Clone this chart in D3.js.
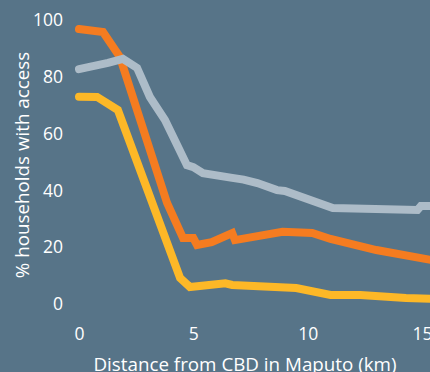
<!DOCTYPE html>
<html>
<head>
<meta charset="utf-8">
<script src="https://cdn.jsdelivr.net/npm/d3@7"></script>
<style>
  html, body { margin: 0; padding: 0; background: #577488; }
  svg { display: block; }
  text { font-family: "Open Sans", "Noto Sans", sans-serif; fill: #ffffff; }
</style>
</head>
<body>
<svg id="chart" width="430" height="372"></svg>
<script>
// Distance from CBD (km) and share of households with access (%)
const orangeX = [0, 1.05, 1.79, 3.85, 4.55, 5.0, 5.16, 5.8, 6.7, 6.82, 8.9, 10.2, 11.0, 13.0, 15.4];
const orangeY = [96.8, 95.8, 87, 35.6, 23.2, 23.2, 20.8, 21.8, 25, 22.5, 25.4, 25, 22.9, 19, 15.5];

const grayX = [0, 1.27, 1.92, 2.54, 3.1, 3.76, 4.72, 5.0, 5.42, 6.7, 7.2, 7.8, 8.66, 9.0, 11.1, 14.8, 14.95, 15.4];
const grayY = [82.7, 84.9, 86.3, 83.1, 72.9, 64.8, 48.9, 48.2, 46.1, 44.4, 43.8, 42.6, 40.1, 39.8, 33.8, 33.1, 34.5, 34.5];

const yellowX = [0, 0.79, 1.7, 4.42, 4.85, 6.4, 6.7, 9.5, 11.0, 12.3, 14.3, 15.4];
const yellowY = [73, 72.9, 68.3, 9.2, 6.0, 7.3, 6.7, 5.6, 3.2, 3.2, 2.1, 1.8];

const xTicks = [0, 5, 10, 15];
const yTicks = [0, 20, 40, 60, 80, 100];

const xTitle = "Distance from CBD in Maputo (km)";
const yTitle = "% households with access";

const svg = d3.select("#chart");

const x = d3.scaleLinear().domain([0, 15]).range([79, 422]);
const y = d3.scaleLinear().domain([0, 100]).range([304, 20]);

const line = d3.line().x(d => x(d[0])).y(d => y(d[1]));
const zip = (xs, ys) => xs.map((v, i) => [v, ys[i]]);

// Axes: labels only, no domain line or ticks
const yAxis = svg.append("g")
  .attr("transform", "translate(63,0)")
  .call(d3.axisLeft(y).tickValues(yTicks).tickSize(0).tickPadding(0).tickFormat(d3.format("d")));
yAxis.select(".domain").remove();
yAxis.selectAll("text").style("font-size", "17.5px").attr("fill", "#ffffff");

const xAxis = svg.append("g")
  .attr("transform", "translate(0,334)")
  .call(d3.axisBottom(x).tickValues(xTicks).tickSize(0).tickPadding(0).tickFormat(d3.format("d")));
xAxis.select(".domain").remove();
xAxis.selectAll("text").attr("dy", "0.35em").style("font-size", "17.5px").attr("fill", "#ffffff");

svg.append("text")
  .attr("x", 245).attr("y", 370.5)
  .attr("text-anchor", "middle")
  .style("font-size", "18.8px")
  .text(xTitle);

svg.append("text")
  .attr("transform", "translate(29,165) rotate(-90)")
  .attr("text-anchor", "middle")
  .style("font-size", "18.8px")
  .text(yTitle);

// Series lines
const series = [
  { data: zip(orangeX, orangeY), color: "#f57c20" },
  { data: zip(yellowX, yellowY), color: "#fdb827" },
  { data: zip(grayX, grayY), color: "#adbcc8" }
];

svg.append("g").selectAll("path")
  .data(series)
  .join("path")
  .attr("d", d => line(d.data))
  .attr("fill", "none")
  .attr("stroke", d => d.color)
  .attr("stroke-width", 8)
  .attr("stroke-linecap", "round")
  .attr("stroke-linejoin", "miter");
</script>
</body>
</html>
